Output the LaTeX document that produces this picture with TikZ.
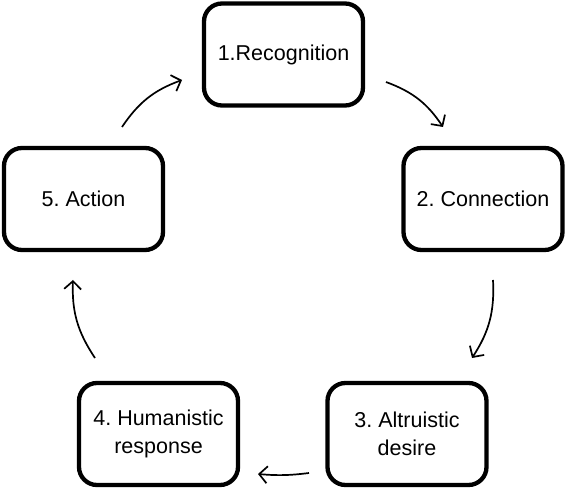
\documentclass[tikz,border=0pt]{standalone}
\usepackage{fontspec}
\setmainfont{Liberation Sans}
\usetikzlibrary{arrows.meta}
\frenchspacing

\begin{document}
\begin{tikzpicture}[x=1pt,y=1pt]
    \tikzstyle{stage}=[draw,line width=4.3pt,rounded corners=18pt,
        minimum width=159pt,minimum height=102pt,align=center,
        font=\fontsize{21.5}{28}\selectfont]
    \tikzstyle{cycle}=[line width=1.7pt,-{Straight Barb[length=8pt,width=17pt]}]
    \useasboundingbox (0,0) rectangle (567,490);
    % Stages
    \node[stage] (rec) at (283.5,435.5) {1.Recognition};
    \node[stage] (con) at (483,291) {2. Connection};
    \node[stage] (alt) at (407,56) {3. Altruistic\\desire};
    \node[stage] (hum) at (158.5,56) {4. Humanistic\\response};
    \node[stage] (act) at (83.5,291) {5. Action};
    % Arrow ends
    \coordinate (rec-s) at (386,408); \coordinate (con-e) at (443,363);
    \coordinate (con-s) at (493,210); \coordinate (alt-e) at (472,132);
    \coordinate (alt-s) at (309,17);  \coordinate (hum-e) at (258,16);
    \coordinate (hum-s) at (95,132);  \coordinate (act-e) at (73,210);
    \coordinate (act-s) at (122,363); \coordinate (rec-e) at (182,410);
    % Arrows
    \draw[cycle] (rec-s) to[bend left=18] (con-e);
    \draw[cycle] (con-s) to[bend left=18] (alt-e);
    \draw[cycle] (alt-s) to[bend left=6] (hum-e);
    \draw[cycle] (hum-s) to[bend left=18] (act-e);
    \draw[cycle] (act-s) to[bend left=18] (rec-e);
\end{tikzpicture}
\end{document}
